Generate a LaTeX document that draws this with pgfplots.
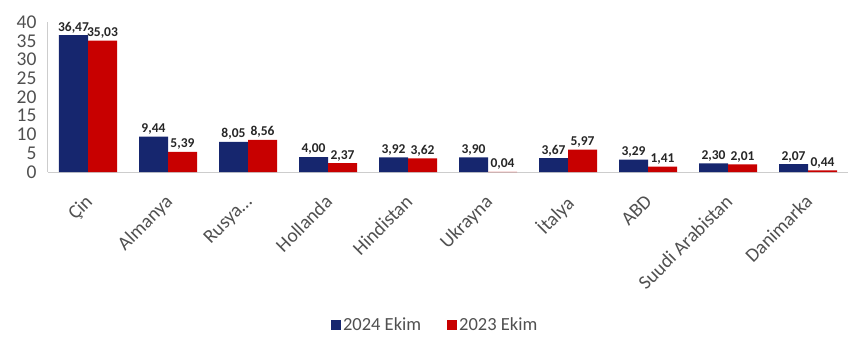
\documentclass[border=0pt]{standalone}
\usepackage{pgfplots}
\pgfplotsset{compat=1.18}
\usepackage{fontspec}
\setmainfont{Carlito}
\definecolor{navy}{RGB}{22,38,110}
\definecolor{cred}{RGB}{200,0,0}
\definecolor{tickgrey}{RGB}{80,80,80}
\definecolor{axgrey}{RGB}{205,205,205}
\definecolor{lblc}{RGB}{38,38,38}
\begin{document}
\begin{tikzpicture}
\begin{axis}[
  at={(0,0)}, anchor=south west,
  scale only axis, width=800pt, height=150pt,
  ybar=0pt, bar width=29pt,
  xmin=-0.5, xmax=9.5, ymin=0, ymax=40,
  ytick={0,5,10,15,20,25,30,35,40},
  xtick={0,1,2,3,4,5,6,7,8,9},
  xticklabels={Çin,Almanya,{Rusya\ldots},Hollanda,Hindistan,Ukrayna,İtalya,ABD,Suudi Arabistan,Danimarka},
  axis x line*=bottom, axis y line*=left,
  axis line style={axgrey, line width=1pt},
  major tick length=0pt,
  tick label style={font=\fontsize{19.5}{20}\selectfont, text=tickgrey},
  /pgf/number format/assume math mode=true,
  xticklabel style={xshift=-4pt, yshift=-20pt, rotate=45, anchor=north east, inner sep=1pt},
  yticklabel style={xshift=-8pt},
  nodes near coords,
  nodes near coords style={font=\bfseries\fontsize{13.5}{14}\selectfont, text=lblc, inner sep=2pt,
    /pgf/number format/.cd, fixed, fixed zerofill, precision=2, use comma, assume math mode=true},
  legend style={at={(0.484,-1.02)}, anchor=center, draw=none, legend columns=2,
    font=\fontsize{18.5}{19}\selectfont, text=tickgrey,
    /tikz/every even column/.append style={column sep=24pt}},
  legend image code/.code={\fill[#1] (0pt,-5pt) rectangle (10pt,5pt);},
]
\addplot[fill=navy, draw=none] coordinates {(0,36.47) (1,9.44) (2,8.05) (3,4.00) (4,3.92) (5,3.90) (6,3.67) (7,3.29) (8,2.30) (9,2.07)};
\addplot[fill=cred, draw=none] coordinates {(0,35.03) (1,5.39) (2,8.56) (3,2.37) (4,3.62) (5,0.04) (6,5.97) (7,1.41) (8,2.01) (9,0.44)};
\legend{2024 Ekim, 2023 Ekim}
\end{axis}
\pgfresetboundingbox
\path[use as bounding box] (-48pt,-170pt) rectangle (802pt,172pt);
\end{tikzpicture}
\end{document}
